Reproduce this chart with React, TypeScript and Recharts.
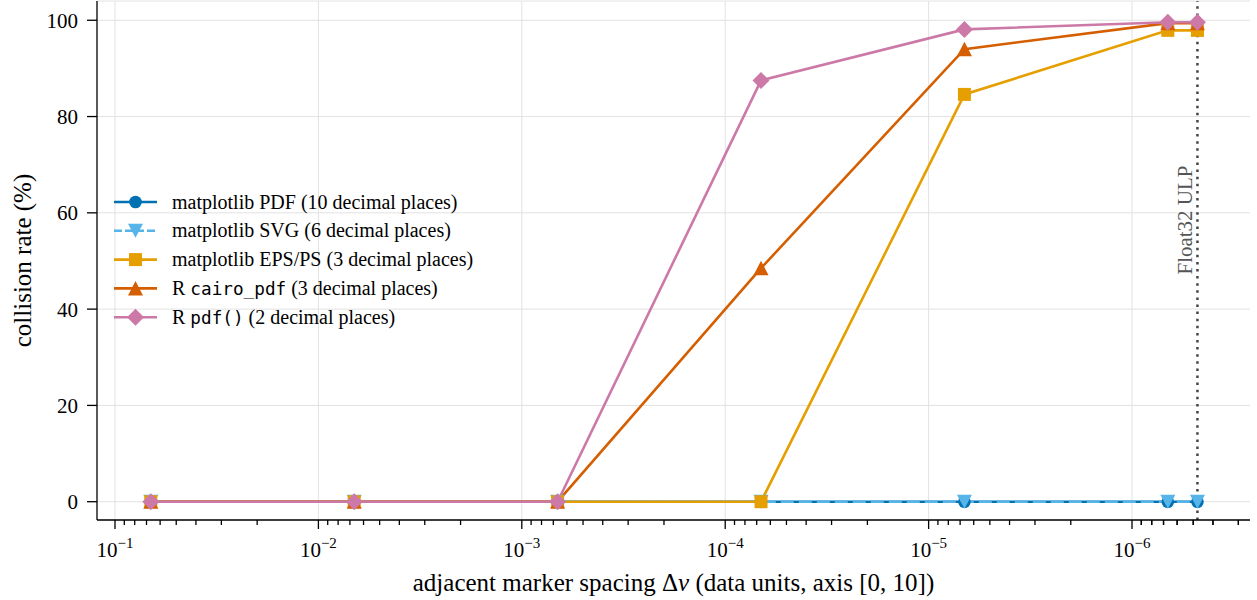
import React from 'react';
import { LineChart, Line, XAxis, YAxis, CartesianGrid, ReferenceLine, Legend } from 'recharts';

// ---- data ----
const spacing = [6.667e-2, 6.667e-3, 6.667e-4, 6.667e-5, 6.667e-6, 6.667e-7, 4.768e-7];
const mplPdf = [0, 0, 0, 0, 0, 0, 0];
const mplSvg = [0, 0, 0, 0, 0, 0, 0];
const mplEps = [0, 0, 0, 0, 84.6, 97.9, 97.9];
const rCairo = [0, 0, 0, 48.5, 94.0, 99.4, 99.4];
const rPdf = [0, 0, 0, 87.5, 98.1, 99.6, 99.6];
const yTicks = [0, 20, 40, 60, 80, 100];
const xMajorExp = [-1, -2, -3, -4, -5, -6];
const xMinorMult = [2, 3, 4, 5, 6, 7, 8, 9];
const float32Ulp = 4.768e-7;
const ulpLabel = 'Float32 ULP';

const FONT = '"Liberation Serif", "Times New Roman", serif';
const MONO = '"DejaVu Sans Mono", monospace';

type Series = {
  key: string;
  values: number[];
  color: string;
  shape: 'circle' | 'tdown' | 'square' | 'tup' | 'diamond';
  dash?: string;
  pre: string;
  mono?: string;
  post: string;
};

const series: Series[] = [
  { key: 'mplPdf', values: mplPdf, color: '#0072b2', shape: 'circle', pre: 'matplotlib PDF (10 decimal places)', post: '' },
  { key: 'mplSvg', values: mplSvg, color: '#56b4e9', shape: 'tdown', dash: '13 5', pre: 'matplotlib SVG (6 decimal places)', post: '' },
  { key: 'mplEps', values: mplEps, color: '#e69f00', shape: 'square', pre: 'matplotlib EPS/PS (3 decimal places)', post: '' },
  { key: 'rCairo', values: rCairo, color: '#d55e00', shape: 'tup', pre: 'R ', mono: 'cairo_pdf', post: ' (3 decimal places)' },
  { key: 'rPdf', values: rPdf, color: '#cc79a7', shape: 'diamond', pre: 'R ', mono: 'pdf()', post: ' (2 decimal places)' },
];

const data = spacing.map((x, i) => {
  const row: Record<string, number> = { x };
  series.forEach((s) => {
    row[s.key] = s.values[i];
  });
  return row;
});

const xMajors = xMajorExp.map((e) => Math.pow(10, e));
const xTicks: number[] = [];
xMajorExp.forEach((e) => {
  xTicks.push(Math.pow(10, e));
  xMinorMult.forEach((m) => xTicks.push(m * Math.pow(10, e - 1)));
});
xMinorMult.forEach((m) => xTicks.push(m * Math.pow(10, -7)));
const X_DOMAIN: [number, number] = [2.63e-7, 0.1226];
const xTicksInDomain = xTicks.filter((t) => t >= X_DOMAIN[0] && t <= X_DOMAIN[1]);

function marker(shape: Series['shape'], color: string, cx: number, cy: number, key: any) {
  if (cx == null || cy == null || isNaN(cx) || isNaN(cy)) return <g key={key} />;
  switch (shape) {
    case 'circle':
      return <circle key={key} cx={cx} cy={cy} r={6.3} fill={color} />;
    case 'tdown':
      return <polygon key={key} points={`${cx - 7.5},${cy - 7} ${cx + 7.5},${cy - 7} ${cx},${cy + 7}`} fill={color} />;
    case 'tup':
      return <polygon key={key} points={`${cx - 7.5},${cy + 7} ${cx + 7.5},${cy + 7} ${cx},${cy - 7.5}`} fill={color} />;
    case 'square':
      return <rect key={key} x={cx - 6.5} y={cy - 6.5} width={13} height={13} fill={color} />;
    case 'diamond':
      return <polygon key={key} points={`${cx},${cy - 8.5} ${cx + 8.5},${cy} ${cx},${cy + 8.5} ${cx - 8.5},${cy}`} fill={color} />;
  }
  return <g key={key} />;
}

const XTick = (props: any) => {
  const { x, y, payload } = props;
  const v = payload.value;
  const idx = xMajors.findIndex((m) => Math.abs(Math.log10(m) - Math.log10(v)) < 1e-6);
  const major = idx >= 0;
  return (
    <g>
      <line x1={x} x2={x} y1={y} y2={y + (major ? 9 : 5)} stroke="#000" strokeWidth={1.3} />
      {major && (
        <text x={x} y={y + 37} textAnchor="middle" fontSize={21} fontFamily={FONT} fill="#000">
          10
          <tspan dy={-9} fontSize={15}>
            {'\u2212' + String(-xMajorExp[idx])}
          </tspan>
        </text>
      )}
    </g>
  );
};

const LegendContent = () => (
  <svg width={420} height={150}>
    {series.map((s, i) => {
      const cy = 16 + i * 28.8;
      return (
        <g key={s.key}>
          <line x1={4} x2={47} y1={cy} y2={cy} stroke={s.color} strokeWidth={2.6} strokeDasharray={s.dash ? '8 3' : undefined} />
          {marker(s.shape, s.color, 25.5, cy, 'm' + i)}
          <text x={62} y={cy + 6.5} fontSize={20} fontFamily={FONT} fill="#000">
            {s.pre}
            {s.mono && (
              <tspan fontFamily={MONO} fontSize={17.7}>
                {s.mono}
              </tspan>
            )}
            {s.post && <tspan xmlSpace="preserve">{s.post}</tspan>}
          </text>
        </g>
      );
    })}
  </svg>
);

export default function App() {
  return (
    <div style={{ position: 'absolute', left: 0, top: 0, width: 1257, height: 600, background: '#fff' }}>
      <LineChart width={1257} height={600} data={data} margin={{ top: 1, right: 7, left: 0, bottom: 0 }}>
        <CartesianGrid stroke="#e2e2e2" strokeWidth={1} verticalValues={xMajors} />
        <XAxis
          dataKey="x"
          type="number"
          scale="log"
          domain={X_DOMAIN}
          reversed
          allowDataOverflow
          ticks={xTicksInDomain}
          interval={0}
          tickSize={0}
          tickMargin={0}
          tickLine={false}
          tick={<XTick />}
          height={80}
          axisLine={{ stroke: '#000', strokeWidth: 1.3 }}
          label={(p: any) => {
            const vb = p.viewBox || {};
            return (
              <text x={vb.x + vb.width / 2} y={vb.y + 71} textAnchor="middle" fontSize={25} fontFamily={FONT} fill="#000">
                adjacent marker spacing Δ<tspan fontStyle="italic">v</tspan>
                <tspan xmlSpace="preserve"> (data units, axis [0, 10])</tspan>
              </text>
            );
          }}
        />
        <YAxis
          type="number"
          domain={[-3.8, 104]}
          allowDataOverflow
          ticks={yTicks}
          interval={0}
          width={97}
          tickSize={10}
          tickMargin={9}
          tick={{ fontSize: 21, fill: '#000', fontFamily: FONT }}
          tickLine={{ stroke: '#000', strokeWidth: 1.3 }}
          axisLine={{ stroke: '#000', strokeWidth: 1.3 }}
          label={(p: any) => {
            const vb = p.viewBox || {};
            const cy = vb.y + vb.height / 2;
            return (
              <text x={31} y={cy} transform={`rotate(-90, 31, ${cy})`} textAnchor="middle" fontSize={25} fontFamily={FONT} fill="#000">
                collision rate (%)
              </text>
            );
          }}
        />
        {series.map((s) => (
          <Line
            key={s.key}
            dataKey={s.key}
            stroke={s.color}
            strokeWidth={2.6}
            strokeDasharray={s.dash}
            isAnimationActive={false}
            type="linear"
            dot={(p: any) => marker(s.shape, s.color, p.cx, p.cy, p.key ?? `${s.key}-${p.index}`)}
            activeDot={false}
          />
        ))}
        <ReferenceLine
          x={float32Ulp}
          stroke="#444"
          strokeWidth={2.5}
          strokeDasharray="2.5 4.6"
          label={(p: any) => {
            const vb = p.viewBox || {};
            const lx = vb.x - 5;
            const ly = vb.y + 219;
            return (
              <text x={lx} y={ly} transform={`rotate(-90, ${lx}, ${ly})`} textAnchor="middle" fontSize={21} fontFamily={FONT} fill="#555">
                {ulpLabel}
              </text>
            );
          }}
        />
        <Legend
          layout="horizontal"
          verticalAlign="middle"
          align="center"
          content={() => <LegendContent />}
          wrapperStyle={{ position: 'absolute', left: 110, top: 186, width: 420, height: 150 }}
        />
      </LineChart>
    </div>
  );
}
